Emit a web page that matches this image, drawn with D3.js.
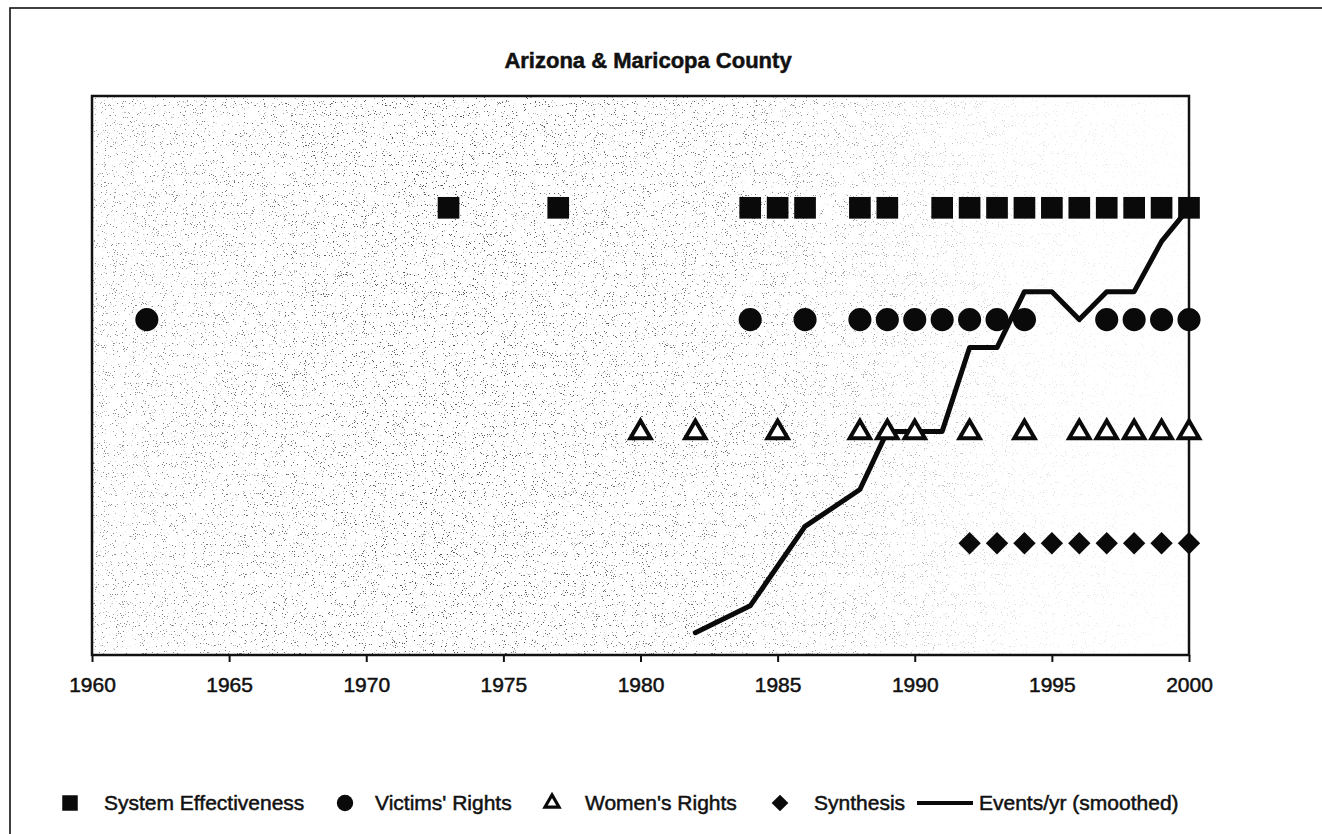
<html>
<head>
<script src="https://cdn.jsdelivr.net/npm/d3@7"></script>
<style>
    body { margin: 0; background: white; }
    svg { display: block; font-family: Arial, "Liberation Sans", sans-serif; }
</style>
</head>
<body>
<svg id="chart"></svg>
<script>

// categories (one row per theme) and the years each theme shows an event
let themes = ["System Effectiveness", "Victims' Rights", "Women's Rights", "Synthesis"]
let themeLevels = [4, 3, 2, 1]

let systemYears = [1973, 1977, 1984, 1985, 1986, 1988, 1989, 1991, 1992, 1993, 1994, 1995, 1996, 1997, 1998, 1999, 2000]
let victimsYears = [1962, 1984, 1986, 1988, 1989, 1990, 1991, 1992, 1993, 1994, 1997, 1998, 1999, 2000]
let womenYears = [1980, 1982, 1985, 1988, 1989, 1990, 1992, 1994, 1996, 1997, 1998, 1999, 2000]
let synthesisYears = [1992, 1993, 1994, 1995, 1996, 1997, 1998, 1999, 2000]

// events/yr (smoothed) line
let eventYears = [1982, 1984, 1986, 1988, 1989, 1990, 1991, 1992, 1993, 1994, 1995, 1996, 1997, 1998, 1999, 2000]
let eventValues = [0.2, 0.44, 1.15, 1.48, 2.0, 2.0, 2.0, 2.75, 2.75, 3.25, 3.25, 3.0, 3.25, 3.25, 3.7, 4.0]

let xTicks = [1960, 1965, 1970, 1975, 1980, 1985, 1990, 1995, 2000]

function getConfig() {
    let width = 1322
    let height = 834
    let margin = { top: 96, left: 92, right: 133, bottom: 179 }
    let bodyWidth = width - margin.left - margin.right
    let bodyHeight = height - margin.top - margin.bottom
    let container = d3.select("#chart")
                      .attr("width", width)
                      .attr("height", height)
    return { width, height, margin, bodyWidth, bodyHeight, container }
}

function getScales() {
    let { margin, bodyWidth, bodyHeight } = getConfig()
    let xScale = d3.scaleLinear()
                   .domain([1960, 2000])
                   .range([margin.left, margin.left + bodyWidth])
    let yScale = d3.scaleLinear()
                   .domain([0, 5])
                   .range([margin.top + bodyHeight, margin.top])
    return { xScale, yScale }
}

function inkText(sel) {
    // scanned print looks heavier than plain Arial
    sel.attr("fill", "#111").attr("stroke", "#111").attr("stroke-width", 0.5)
}

function drawFrame() {
    let { container, margin, bodyWidth, bodyHeight } = getConfig()

    let defs = container.append("defs")

    let grad = defs.append("linearGradient").attr("id", "shade")
    let stops = [[0, 0.45], [0.3, 0.7], [0.6, 0.55], [0.75, 0.3], [0.85, 0.12], [1, 0.04]]
    stops.forEach(s => {
        grad.append("stop").attr("offset", s[0]).attr("stop-color", "#000").attr("stop-opacity", s[1])
    })

    let filter = defs.append("filter")
                     .attr("id", "speckle")
                     .attr("x", 0).attr("y", 0).attr("width", 1).attr("height", 1)
                     .attr("color-interpolation-filters", "sRGB")
    filter.append("feTurbulence")
          .attr("type", "fractalNoise")
          .attr("baseFrequency", 0.9)
          .attr("numOctaves", 2)
          .attr("seed", 7)
          .attr("result", "noise")
    filter.append("feColorMatrix")
          .attr("in", "noise")
          .attr("type", "matrix")
          .attr("values", "0 0 0 0 0  0 0 0 0 0  0 0 0 0 0  -14 0 0 0 4.6")
          .attr("result", "dots")
    filter.append("feComposite")
          .attr("in", "dots")
          .attr("in2", "SourceGraphic")
          .attr("operator", "in")

    // outer frame (only top and left edges fall inside the page)
    container.append("rect")
             .attr("x", 10).attr("y", 8)
             .attr("width", 1340).attr("height", 860)
             .attr("fill", "none")
             .attr("stroke", "#111")
             .attr("stroke-width", 1.6)

    container.append("rect")
             .attr("x", margin.left).attr("y", margin.top)
             .attr("width", bodyWidth).attr("height", bodyHeight)
             .attr("fill", "white")

    container.append("rect")
             .attr("x", margin.left).attr("y", margin.top)
             .attr("width", bodyWidth).attr("height", bodyHeight)
             .attr("fill", "url(#shade)")
             .attr("filter", "url(#speckle)")

    container.append("text")
             .attr("x", 648).attr("y", 68)
             .attr("text-anchor", "middle")
             .attr("font-size", 22)
             .attr("font-weight", "bold")
             .call(inkText)
             .text("Arizona & Maricopa County")
}

function drawAxes() {
    let { container, margin, bodyWidth, bodyHeight } = getConfig()
    let { xScale } = getScales()

    let xAxis = d3.axisBottom(xScale)
                  .tickValues(xTicks)
                  .tickFormat(d3.format("d"))
                  .tickSize(7)
                  .tickPadding(15)

    let g = container.append("g")
                     .attr("transform", `translate(0,${margin.top + bodyHeight})`)
                     .call(xAxis)
    g.select(".domain").remove()
    g.selectAll(".tick line").attr("stroke", "#111").attr("stroke-width", 2)
    g.selectAll(".tick text")
     .attr("font-size", 21)
     .attr("font-family", "Arial, 'Liberation Sans', sans-serif")
     .call(inkText)

    container.append("rect")
             .attr("x", margin.left).attr("y", margin.top)
             .attr("width", bodyWidth).attr("height", bodyHeight)
             .attr("fill", "none")
             .attr("stroke", "#111")
             .attr("stroke-width", 2.5)
}

function drawLine() {
    let { container } = getConfig()
    let { xScale, yScale } = getScales()

    let points = eventYears.map((y, i) => [y, eventValues[i]])
    let line = d3.line()
                 .x(d => xScale(d[0]))
                 .y(d => yScale(d[1]))

    container.append("path")
             .datum(points)
             .attr("d", line)
             .attr("fill", "none")
             .attr("stroke", "#0a0a0a")
             .attr("stroke-width", 5)
             .attr("stroke-linejoin", "round")
             .attr("stroke-linecap", "round")
}

function markerStyle(sel, kind) {
    if (kind == "triangle") {
        sel.attr("fill", "white").attr("stroke", "#0a0a0a").attr("stroke-width", 4).attr("stroke-linejoin", "miter")
    } else {
        sel.attr("fill", "#0a0a0a")
    }
}

function drawMarkers() {
    let { container } = getConfig()
    let { xScale, yScale } = getScales()

    let series = [
        { years: systemYears, level: themeLevels[0], kind: "square", symbol: d3.symbol(d3.symbolSquare, 470)() },
        { years: victimsYears, level: themeLevels[1], kind: "circle", symbol: d3.symbol(d3.symbolCircle, 420)() },
        { years: womenYears, level: themeLevels[2], kind: "triangle", symbol: d3.symbol(d3.symbolTriangle, 180)() },
        { years: synthesisYears, level: themeLevels[3], kind: "diamond", symbol: d3.symbol(d3.symbolSquare, 250)() }
    ]

    series.forEach(s => {
        let marks = container.append("g")
                             .selectAll("path")
                             .data(s.years)
                             .enter()
                             .append("path")
                             .attr("d", s.symbol)
                             .attr("transform", d => {
                                 let t = `translate(${xScale(d)},${yScale(s.level)})`
                                 if (s.kind == "diamond") t += " rotate(45)"
                                 if (s.kind == "triangle") t += " translate(0,1)"
                                 return t
                             })
        markerStyle(marks, s.kind)
    })
}

function drawLegend() {
    let { container } = getConfig()
    let legendY = 803

    let items = [
        { label: themes[0], x: 70, textX: 104, kind: "square", symbol: d3.symbol(d3.symbolSquare, 240)() },
        { label: themes[1], x: 345, textX: 375, kind: "circle", symbol: d3.symbol(d3.symbolCircle, 210)() },
        { label: themes[2], x: 552, textX: 585, kind: "triangle", symbol: d3.symbol(d3.symbolTriangle, 85)() },
        { label: themes[3], x: 780, textX: 814, kind: "diamond", symbol: d3.symbol(d3.symbolSquare, 140)() }
    ]

    items.forEach(it => {
        let m = container.append("path")
                         .attr("d", it.symbol)
                         .attr("transform", `translate(${it.x},${legendY})` + (it.kind == "diamond" ? " rotate(45)" : ""))
        markerStyle(m, it.kind)
        if (it.kind == "triangle") m.attr("stroke-width", 3.2)

        container.append("text")
                 .attr("x", it.textX).attr("y", legendY + 7)
                 .attr("font-size", 21)
                 .call(inkText)
                 .text(it.label)
    })

    container.append("line")
             .attr("x1", 917).attr("x2", 973)
             .attr("y1", legendY).attr("y2", legendY)
             .attr("stroke", "#0a0a0a")
             .attr("stroke-width", 4)

    container.append("text")
             .attr("x", 979).attr("y", legendY + 7)
             .attr("font-size", 21)
             .call(inkText)
             .text("Events/yr (smoothed)")
}

drawFrame()
drawAxes()
drawLine()
drawMarkers()
drawLegend()

</script>
</body>
</html>
